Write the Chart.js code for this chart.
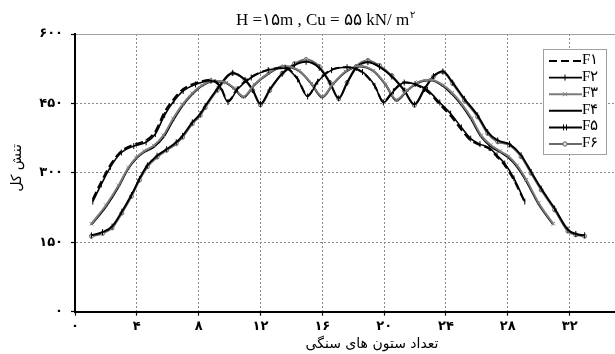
<!DOCTYPE html>
<html><head><meta charset="utf-8">
<script src="https://cdn.jsdelivr.net/npm/chart.js@4.4.1/dist/chart.umd.min.js"></script>
<style>
html,body{margin:0;padding:0;background:#fff;overflow:hidden;width:615px;height:354px}
#wrap{position:absolute;left:0;top:0;width:620px;height:354px}
</style>
</head><body><div id="wrap"><canvas id="c" width="620" height="354"></canvas></div>
<script>
// ---- data ----
const xTicks = [0, 4, 8, 12, 16, 20, 24, 28, 32];
const xTickLabels = ['۰', '۴', '۸', '۱۲', '۱۶', '۲۰', '۲۴', '۲۸', '۳۲'];
const yTicks = [0, 150, 300, 450, 600];
const yTickLabels = ['۰', '۱۵۰', '۳۰۰', '۴۵۰', '۶۰۰'];
const seriesNames = ['F۱', 'F۲', 'F۳', 'F۴', 'F۵', 'F۶'];
const chartTitle = 'H =۱۵m , Cu = ۵۵ kN/ m';
const chartTitleSup = '۲';
const xTitle = 'تعداد ستون های سنگی';
const yTitle = 'تنش کل';

const xA = [1.15,1.7,2.3,3.0,3.8,4.6,5.2,5.8,6.4,7.0,7.8,8.8,9.4,9.9,10.5,11.4,12.5,13.6,14.4,15.05,15.7,16.6,17.6,18.6,19.4,19.95,20.6,21.3,22.0,22.8,23.6,24.3,25.0,25.6,26.2,26.8,27.3,27.8,28.4,29.1];
const f1 = [243,281,318,347,361,370,390,432,460,481,494,501,487,455,482,507,523,527,503,467,498,523,528,517,487,454,478,496,491,476,448,423,393,370,360,352,335,316,284,236];
const f2 = [238,275,313,344,358,366,384,425,455,477,491,499,485,453,480,506,522,526,502,465,497,522,528,518,488,452,476,495,492,479,452,428,398,374,362,354,338,320,288,238];

const xB = [1.06,2.0,2.82,3.44,3.96,4.48,5.1,5.72,6.34,6.96,7.59,8.21,9.0,9.8,10.3,10.9,11.6,12.5,13.5,14.5,15.3,16.0,16.7,17.5,18.4,19.3,20.1,20.8,21.5,22.2,23.0,23.8,24.4,25.04,25.66,26.28,26.9,27.5,28.04,28.6,29.2,30.0,30.94];
const f3 = [190,230,273,311,333,347,359,381,417,448,472,489,499,495,483,465,491,515,531,521,493,465,493,519,531,521,491,458,479,496,501,490,473,448,418,381,360,347,336,316,285,235,190];
const f4 = [188,227,270,309,331,345,356,377,413,445,470,488,498,494,482,463,490,514,530,520,492,463,492,518,530,520,490,456,478,495,500,488,470,445,414,378,357,345,333,313,282,232,188];

const xC = [1.06,1.78,2.4,3.03,3.65,4.17,4.68,5.31,5.93,6.55,6.96,7.59,8.1,8.42,9.2,10.2,11.0,11.5,12.0,12.6,13.4,14.2,14.95,15.8,16.5,17.06,17.6,18.2,18.95,19.7,20.5,21.3,21.96,22.6,23.2,23.8,24.43,25.19,26.05,26.7,27.35,28.11,28.86,29.51,30.16,31.03,31.89,32.4,32.97];
const f5 = [165,172,184,216,252,287,316,337,351,366,380,409,427,444,481,516,501,479,449,480,514,533,540,527,494,461,494,527,539,529,508,478,448,481,509,519,495,460,424,388,370,362,338,302,266,223,177,168,165];
const f6 = [163,169,181,213,249,284,313,334,349,363,377,406,424,441,478,515,500,478,447,478,515,536,545,530,495,460,495,530,543,532,510,478,446,480,508,518,493,457,421,385,367,360,335,299,263,220,174,166,163];

const zip = (xs, ys) => xs.map((x, i) => ({x: x, y: ys[i]}));

const GRAY = '#7c7c7c';
const datasets = [
  {label: seriesNames[0], data: zip(xA, f1), borderColor: '#000', borderWidth: 2, borderDash: [8, 4], pointRadius: 0, mk: null},
  {label: seriesNames[1], data: zip(xA, f2), borderColor: '#000', borderWidth: 1.6, pointStyle: 'line', pointRotation: 90, pointRadius: 3, pointBorderColor: '#000', pointBorderWidth: 1, mk: 'tick'},
  {label: seriesNames[2], data: zip(xB, f3), borderColor: GRAY, borderWidth: 2, pointStyle: 'crossRot', pointRadius: 2.5, pointBorderColor: GRAY, pointBorderWidth: 1, mk: 'x'},
  {label: seriesNames[3], data: zip(xB, f4), borderColor: '#000', borderWidth: 2, pointRadius: 0, mk: null},
  {label: seriesNames[4], data: zip(xC, f5), borderColor: '#000', borderWidth: 2, pointStyle: 'line', pointRotation: 90, pointRadius: 3, pointBorderColor: '#000', pointBorderWidth: 1, mk: 'tick2'},
  {label: seriesNames[5], data: zip(xC, f6), borderColor: '#6a6a6a', borderWidth: 2, pointStyle: 'circle', pointRadius: 2, pointBorderColor: '#6a6a6a', pointBackgroundColor: '#d8d8d8', pointBorderWidth: 1, mk: 'circle'}
].map(d => Object.assign({fill: false, cubicInterpolationMode: 'monotone', pointHoverRadius: 0}, d));

const PERSIAN_FONT = '"DejaVu Sans", "Noto Sans", sans-serif';
const SERIF = '"Liberation Serif", "DejaVu Serif", serif';

const decor = {
  id: 'decor',
  afterDraw(chart) {
    const ctx = chart.ctx;
    ctx.save();
    // title
    ctx.fillStyle = '#000';
    ctx.textBaseline = 'alphabetic';
    ctx.font = '17px ' + SERIF;
    const w1 = ctx.measureText(chartTitle).width;
    ctx.font = '10px ' + SERIF;
    const w2 = ctx.measureText(chartTitleSup).width;
    let tx = 325 - (w1 + w2) / 2;
    ctx.font = '17px ' + SERIF;
    ctx.textAlign = 'left';
    ctx.fillText(chartTitle, tx, 25);
    ctx.font = '10px ' + SERIF;
    ctx.fillText(chartTitleSup, tx + w1 + 1, 18);
    // axis titles
    ctx.font = '14px ' + PERSIAN_FONT;
    ctx.textAlign = 'center';
    ctx.textBaseline = 'middle';
    ctx.fillText(xTitle, 372, 344);
    ctx.save();
    ctx.translate(17, 168);
    ctx.rotate(-Math.PI / 2);
    ctx.fillText(yTitle, 0, 0);
    ctx.restore();
    // legend
    const bx = 543, by = 49, bw = 63, bh = 105;
    ctx.fillStyle = '#fff';
    ctx.fillRect(bx, by, bw, bh);
    ctx.strokeStyle = '#a0a0a0';
    ctx.lineWidth = 1;
    ctx.setLineDash([]);
    ctx.strokeRect(bx + 0.5, by + 0.5, bw, bh);
    chart.data.datasets.forEach((ds, i) => {
      const y = 61 + i * 16.6;
      ctx.save();
      ctx.strokeStyle = ds.borderColor;
      ctx.lineWidth = ds.borderWidth;
      ctx.setLineDash(ds.borderDash || []);
      ctx.beginPath();
      ctx.moveTo(549, y);
      ctx.lineTo(582, y);
      ctx.stroke();
      ctx.setLineDash([]);
      const cx = 565;
      ctx.lineWidth = 1;
      ctx.strokeStyle = ds.pointBorderColor || ds.borderColor;
      if (ds.mk === 'tick' || ds.mk === 'tick2') {
        ctx.beginPath();
        if (ds.mk === 'tick') { ctx.moveTo(cx, y - 3); ctx.lineTo(cx, y + 3); }
        else { ctx.moveTo(cx - 1.5, y - 3); ctx.lineTo(cx - 1.5, y + 3); ctx.moveTo(cx + 1.5, y - 3); ctx.lineTo(cx + 1.5, y + 3); }
        ctx.stroke();
      } else if (ds.mk === 'x') {
        ctx.beginPath();
        ctx.moveTo(cx - 2, y - 2); ctx.lineTo(cx + 2, y + 2);
        ctx.moveTo(cx + 2, y - 2); ctx.lineTo(cx - 2, y + 2);
        ctx.stroke();
      } else if (ds.mk === 'circle') {
        ctx.fillStyle = ds.pointBackgroundColor;
        ctx.beginPath(); ctx.arc(cx, y, 2.2, 0, Math.PI * 2); ctx.fill(); ctx.stroke();
      }
      ctx.restore();
      ctx.fillStyle = '#000';
      ctx.font = '15px ' + SERIF;
      ctx.textAlign = 'left';
      ctx.textBaseline = 'middle';
      ctx.fillText(ds.label, 582, y - 1);
    });
    ctx.restore();
  }
};

new Chart(document.getElementById('c'), {
  type: 'line',
  data: {datasets: datasets},
  plugins: [decor],
  options: {
    responsive: false,
    animation: false,
    devicePixelRatio: 1,
    events: [],
    layout: {padding: {top: 34, right: 1.5, left: 0, bottom: 0}},
    plugins: {legend: {display: false}, title: {display: false}, tooltip: {enabled: false}},
    scales: {
      x: {
        type: 'linear', min: 0, max: 35,
        afterBuildTicks: s => { s.ticks = xTicks.map(v => ({value: v})); },
        afterFit: s => { s.height = 42.3; },
        grid: {
          color: c => (c.tick && c.tick.value === 0) ? 'rgba(0,0,0,0)' : '#8a8a8a',
          lineWidth: 1, tickColor: '#000', tickLength: 4, tickWidth: 1.2
        },
        border: {display: true, color: '#000', width: 2, dash: [2, 2]},
        ticks: {
          callback: (v, i) => xTickLabels[i],
          font: {family: PERSIAN_FONT, size: 13, weight: 'bold'}, color: '#000',
          padding: 3, maxRotation: 0, autoSkip: false
        }
      },
      y: {
        type: 'linear', min: 0, max: 600,
        afterBuildTicks: s => { s.ticks = yTicks.map(v => ({value: v})); },
        afterFit: s => { s.width = 75; },
        grid: {
          color: c => (c.tick && c.tick.value === 0) ? 'rgba(0,0,0,0)' : (c.tick && c.tick.value === 600 ? '#a0a0a0' : '#8a8a8a'),
          lineWidth: 1, tickColor: '#000', tickLength: 4, tickWidth: 1.2
        },
        border: {display: true, color: '#000', width: 2, dash: c => (c.tick && c.tick.value === 600) ? [] : [2, 2]},
        ticks: {
          callback: (v, i) => yTickLabels[i],
          font: {family: PERSIAN_FONT, size: 13, weight: 'bold'}, color: '#000',
          padding: 8
        }
      }
    }
  }
});
</script>
</body></html>
